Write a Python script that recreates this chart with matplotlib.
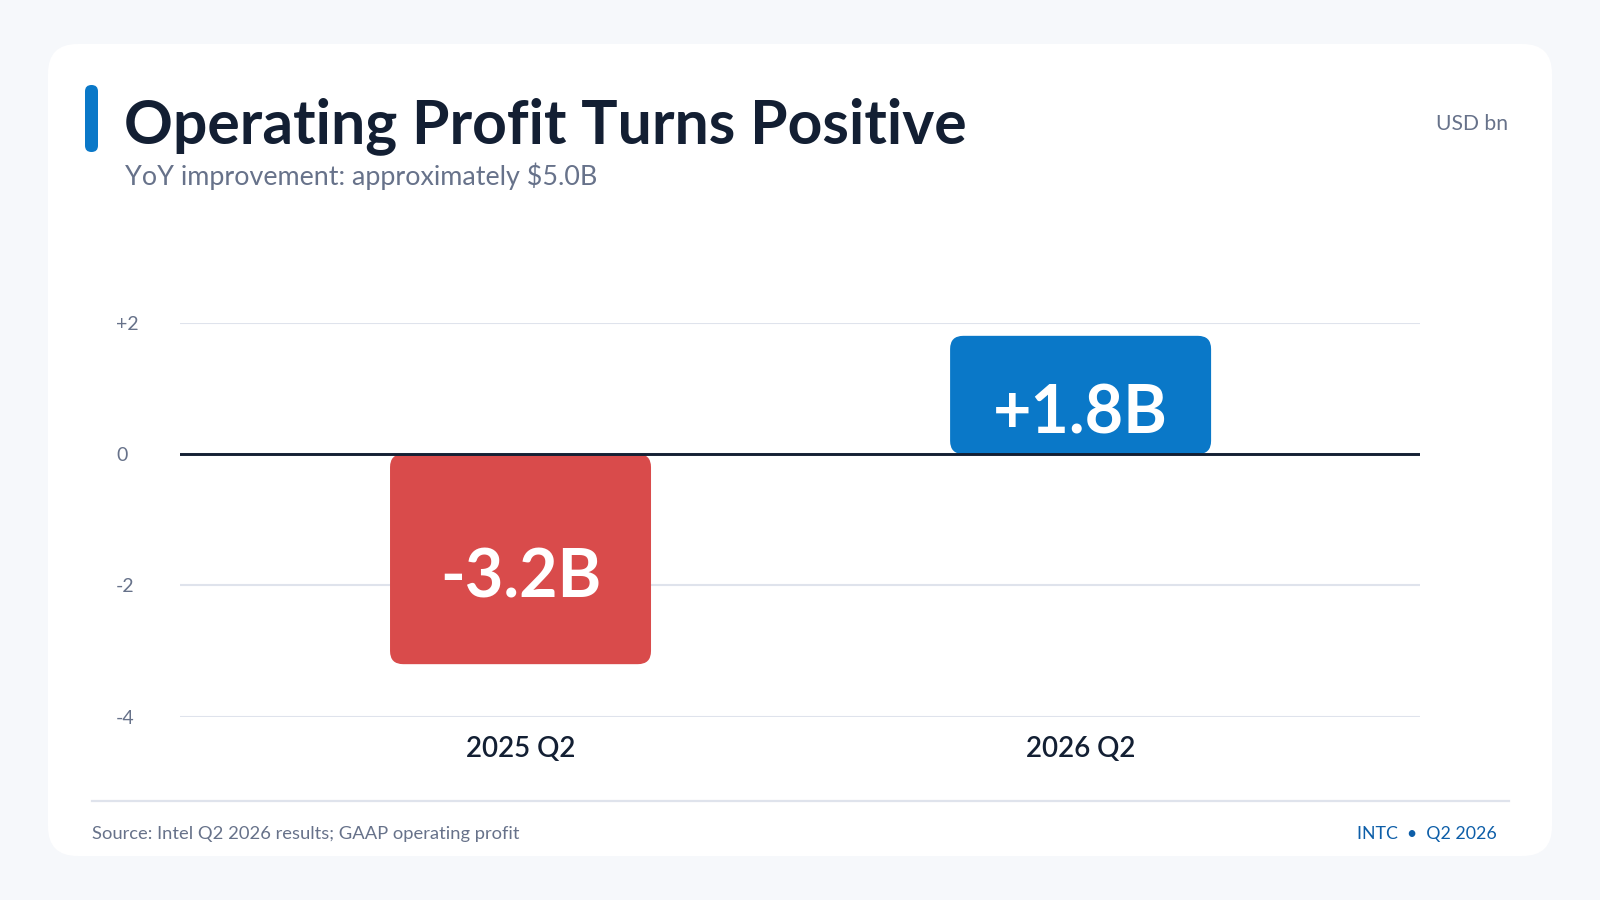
import matplotlib
matplotlib.use("Agg")
import matplotlib.pyplot as plt
from matplotlib.patches import FancyBboxPatch
from matplotlib.lines import Line2D

plt.rcParams['font.family'] = ['Lato', 'DejaVu Sans']

# data
categories = ["2025 Q2", "2026 Q2"]
values = [-3.2, 1.8]
value_labels = ["-3.2B", "+1.8B"]
y_ticks = [2, 0, -2, -4]
y_tick_labels = ["+2", "0", "-2", "-4"]

title = "Operating Profit Turns Positive"
subtitle = "YoY improvement: approximately $5.0B"
unit_note = "USD bn"
source_note = "Source: Intel Q2 2026 results; GAAP operating profit"
tag_note = "INTC  \u2022  Q2 2026"

# colours
BG = "#f6f8fb"
CARD = "#ffffff"
INK = "#131f33"
MUTED = "#67728a"
GRID = "#dfe3ec"
RED = "#d94b4b"
BLUE = "#0a78c8"
TAG_BLUE = "#0d5ea8"
bar_colors = [RED, BLUE]

W, H = 1600, 900
fig = plt.figure(figsize=(16, 9), dpi=100)
fig.patch.set_facecolor(BG)


def fx(px):
    return px / W


def fy(py):
    # py measured from top
    return 1 - py / H


# card (behind the axes)
card = FancyBboxPatch((fx(48), fy(856)), fx(1552 - 48), (856 - 44) / H,
                      boxstyle="round,pad=0,rounding_size=0.0185",
                      mutation_aspect=W / H,
                      transform=fig.transFigure, facecolor=CARD,
                      edgecolor="none", zorder=-5)
fig.patches.append(card)

# accent bar next to title
accent = FancyBboxPatch((fx(85), fy(152)), fx(13), 67 / H,
                        boxstyle="round,pad=0,rounding_size=0.004",
                        mutation_aspect=W / H,
                        transform=fig.transFigure, facecolor=BLUE,
                        edgecolor="none", zorder=1)
fig.patches.append(accent)

fig.text(fx(124), fy(143), title, fontsize=43.7, fontweight="bold",
         color=INK, ha="left", va="baseline")
fig.text(fx(125), fy(185), subtitle, fontsize=19.4, color=MUTED,
         ha="left", va="baseline")
fig.text(fx(1508), fy(130), unit_note, fontsize=15.2, color=MUTED,
         ha="right", va="baseline")

# footer
fig.add_artist(Line2D([fx(92), fx(1509)], [fy(801), fy(801)],
                      transform=fig.transFigure, color=GRID, lw=1.6))
fig.text(fx(92), fy(839), source_note, fontsize=13.2, color=MUTED,
         ha="left", va="baseline")
fig.text(fx(1497), fy(839), tag_note, fontsize=12.8, color=TAG_BLUE,
         ha="right", va="baseline")

# chart area
ax = fig.add_axes([fx(180), fy(716.7), fx(1240), (716.7 - 322.7) / H])
ax.set_facecolor("none")
x = list(range(len(categories)))
bar_w = 0.466
ax.set_xlim(-0.608, 1.606)
ax.set_ylim(-4, 2)

bars = ax.bar(x, values, width=bar_w, color=bar_colors)
# swap plain rectangles for rounded ones
rx = 0.0235
ry = 0.2
for b, c in zip(bars, bar_colors):
    b.set_visible(False)
    y0 = min(b.get_y(), b.get_y() + b.get_height())
    rb = FancyBboxPatch((b.get_x(), y0), b.get_width(), abs(b.get_height()),
                        boxstyle=f"round,pad=0,rounding_size={rx}",
                        mutation_aspect=ry / rx,
                        facecolor=c, edgecolor="none", zorder=2)
    ax.add_patch(rb)

for xi, v, lab in zip(x, values, value_labels):
    ax.annotate(lab, (xi, v / 2), xytext=(0, -14), textcoords="offset points",
                ha="center", va="center", fontsize=47.8, fontweight="bold",
                color="white", zorder=4)

ax.axhline(0, color=INK, lw=2.1, zorder=3)

ax.set_yticks(y_ticks)
ax.set_yticklabels(y_tick_labels)
ax.set_xticks(x)
ax.set_xticklabels(categories, fontweight="semibold")
ax.grid(axis="y", color=GRID, lw=1.5, zorder=1)
ax.set_axisbelow(True)
ax.tick_params(axis="y", length=0, pad=46, labelsize=14, labelcolor=MUTED)
ax.tick_params(axis="x", length=0, pad=14, labelsize=20, labelcolor=INK)
for t in ax.get_yticklabels():
    t.set_ha("left")
for s in ax.spines.values():
    s.set_visible(False)

fig.savefig("out.png", dpi=100, facecolor=BG)
